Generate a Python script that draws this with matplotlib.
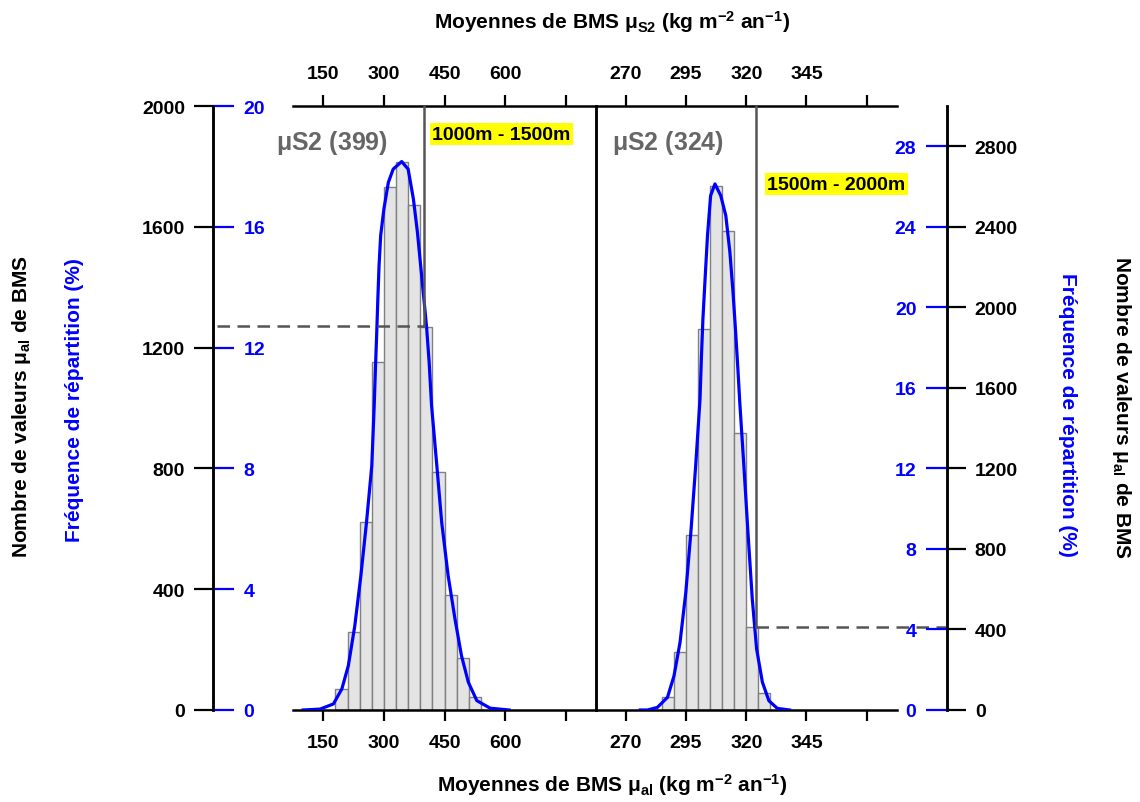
import numpy as np
import matplotlib
matplotlib.use('Agg')
import matplotlib.pyplot as plt

plt.rcParams['font.family'] = ['Liberation Sans', 'DejaVu Sans']
plt.rcParams['font.weight'] = 'bold'
plt.rcParams['mathtext.fontset'] = 'custom'
plt.rcParams['mathtext.rm'] = 'Liberation Sans'
plt.rcParams['mathtext.bf'] = 'Liberation Sans:bold'
plt.rcParams['mathtext.it'] = 'Liberation Sans:italic'

# 1000m - 1500m panel
edges1 = [180, 210, 240, 270, 300, 330, 360, 390, 420, 450, 480, 510]
counts1 = [68, 257, 622, 1153, 1731, 1815, 1673, 1269, 787, 382, 171, 42]
width1 = 30
curve1_x = [100, 142, 175, 196, 212, 228, 243, 257, 270, 276, 279, 282, 285, 288, 292,
            300, 311, 323, 344, 360, 373, 383, 391, 399, 406, 412, 418, 431, 443, 459,
            476, 492, 509, 530, 563, 610]
curve1_y = [0, 3, 20, 70, 147, 279, 445, 622, 809, 1008, 1129, 1239, 1361, 1471, 1571,
            1659, 1747, 1791, 1816, 1791, 1692, 1582, 1471, 1361, 1262, 1151, 1008, 809, 622, 445,
            301, 180, 92, 31, 6, 0]
mu1 = 399
level1 = 1272
ticks1 = [150, 300, 450, 600, 750]
ticklabels1 = ['150', '300', '450', '600', '']

# 1500m - 2000m panel
edges2 = [285, 290, 295, 300, 305, 310, 315, 320, 325]
counts2 = [63, 287, 871, 1893, 2605, 2381, 1374, 414, 83]
width2 = 5
curve2_x = [276, 279, 283.1, 287.3, 290, 292.5, 294.9, 297, 299, 300.8, 301.4, 302, 302.9,
            303.9, 305.2, 307, 309.4, 311.5, 313.2, 314.5, 315.6, 316.6, 317.3, 319, 320.7,
            322.5, 324.3, 326.7, 329.4, 332.9, 338]
curve2_y = [0, 0, 13, 63, 170, 336, 585, 883, 1214, 1545, 1760, 1942, 2141,
            2356, 2555, 2613, 2555, 2456, 2274, 2075, 1876, 1678, 1529, 1214, 883,
            551, 303, 138, 46, 8, 0]
mu2 = 324
level2 = 414
ticks2 = [270, 295, 320, 345, 370]
ticklabels2 = ['270', '295', '320', '345', '']

W, H = 1140, 803
fig = plt.figure(figsize=(11.4, 8.03), dpi=100)

def fx(px):
    return px / W

def fy(py):
    return 1 - py / H

blue = '#0000ff'
grey = '#555555'
bar_face = '#e4e4e4'
bar_edge = '#808080'
tick_fs = 14
title_fs = 15

ax1 = fig.add_axes([fx(293), fy(711), 303 / W, 604 / H])
ax2 = fig.add_axes([fx(596), fy(711), 301 / W, 604 / H])

for ax in (ax1, ax2):
    for s in ax.spines.values():
        s.set_linewidth(1.8)
    ax.patch.set_visible(False)
    ax.tick_params(axis='x', top=True, labeltop=True, bottom=True, labelbottom=True,
                   direction='out', length=8, width=1.6, labelsize=tick_fs, pad=9)

# left panel
ax1.bar(edges1, counts1, width=width1, align='edge', color=bar_face,
        edgecolor=bar_edge, linewidth=1.0, zorder=2)
ax1.plot(curve1_x, curve1_y, color=blue, lw=2.3, zorder=3)
ax1.set_xlim(75, 825)
ax1.set_ylim(0, 2000)
ax1.set_xticks(ticks1)
ax1.set_xticklabels(ticklabels1)
ax1.spines['left'].set_position(('outward', 57.6))
ax1.set_yticks(np.arange(0, 2001, 400))
ax1.tick_params(axis='y', left=True, right=False, direction='out', length=14,
                width=1.6, labelsize=tick_fs, pad=6)
ax1.plot([mu1, mu1], [level1, 2000], color=grey, lw=1.8, zorder=4)
ax1.plot([-112, mu1], [level1, level1], color=grey, lw=1.8, ls=(0, (5, 3)),
         clip_on=False, zorder=4)

ax1b = ax1.twinx()
ax1b.set_ylim(0, 20)
ax1b.set_yticks(np.arange(0, 21, 4))
for k, s in ax1b.spines.items():
    s.set_visible(k == 'right')
ax1b.spines['right'].set_position(('axes', -80 / 303))
ax1b.spines['right'].set_linewidth(1.8)
ax1b.tick_params(axis='y', direction='out', length=15, width=1.6, color=blue,
                 labelcolor=blue, labelsize=tick_fs, pad=7)

# right panel
ax2b = ax2.twinx()
ax2.bar(edges2, counts2, width=width2, align='edge', color=bar_face,
        edgecolor=bar_edge, linewidth=1.0, zorder=2)
ax2.plot(curve2_x, curve2_y, color=blue, lw=2.3, zorder=3)
ax2.set_xlim(257.6, 382.6)
ax2.set_ylim(0, 3000)
ax2.set_xticks(ticks2)
ax2.set_xticklabels(ticklabels2)
ax2.yaxis.tick_right()
ax2.spines['right'].set_position(('outward', 36))
ax2.set_yticks(np.arange(0, 2801, 400))
ax2.tick_params(axis='y', left=False, right=True, direction='out', length=14,
                width=1.6, labelsize=tick_fs, pad=6)
ax2.plot([mu2, mu2], [level2, 3000], color=grey, lw=1.8, zorder=4)
ax2.plot([mu2, 403.5], [level2, level2], color=grey, lw=1.8, ls=(0, (5, 3)),
         clip_on=False, zorder=4)

ax2b.set_ylim(0, 30)
ax2b.set_yticks(np.arange(0, 29, 4))
ax2b.yaxis.tick_left()
for k, s in ax2b.spines.items():
    s.set_visible(k == 'left')
ax2b.spines['left'].set_position(('axes', 1 + 50 / 301))
ax2b.spines['left'].set_linewidth(1.8)
ax2b.tick_params(axis='y', left=True, right=False, labelleft=True, labelright=False,
                 direction='out', length=15, width=1.6, color=blue,
                 labelcolor=blue, labelsize=tick_fs, pad=7)

# annotations
fig.text(fx(276), fy(143), r'$\mathrm{\mu}$S2 (' + str(mu1) + ')', fontsize=18,
         color='#666666', va='center', ha='left')
fig.text(fx(612), fy(143), r'$\mathrm{\mu}$S2 (' + str(mu2) + ')', fontsize=18,
         color='#666666', va='center', ha='left')
fig.text(fx(432), fy(135), '1000m - 1500m', fontsize=14, va='center', ha='left',
         bbox=dict(boxstyle='square,pad=0.12', fc='#ffff00', ec='none'))
fig.text(fx(767), fy(185), '1500m - 2000m', fontsize=14, va='center', ha='left',
         bbox=dict(boxstyle='square,pad=0.12', fc='#ffff00', ec='none'))

# axis titles
fig.text(fx(612), fy(22),
         r'Moyennes de BMS $\mathrm{\mu}_{\mathbf{S2}}$ (kg m$^{\mathbf{-2}}$ an$^{\mathbf{-1}}$)',
         fontsize=title_fs, ha='center', va='center')
fig.text(fx(612), fy(785),
         r'Moyennes de BMS $\mathrm{\mu}_{\mathbf{al}}$ (kg m$^{\mathbf{-2}}$ an$^{\mathbf{-1}}$)',
         fontsize=title_fs, ha='center', va='center')
ylab = r'Nombre de valeurs $\mathrm{\mu}_{\mathbf{al}}$ de BMS'
flab = 'Fréquence de répartition (%)'
fig.text(fx(22), fy(407), ylab, fontsize=title_fs, rotation=90, ha='center', va='center')
fig.text(fx(75), fy(400), flab, fontsize=title_fs, rotation=90, ha='center', va='center',
         color=blue)
fig.text(fx(1068), fy(415), flab, fontsize=title_fs, rotation=-90, ha='center', va='center',
         color=blue)
fig.text(fx(1122), fy(407), ylab, fontsize=title_fs, rotation=-90, ha='center', va='center')

fig.savefig('out.png', dpi=100)
